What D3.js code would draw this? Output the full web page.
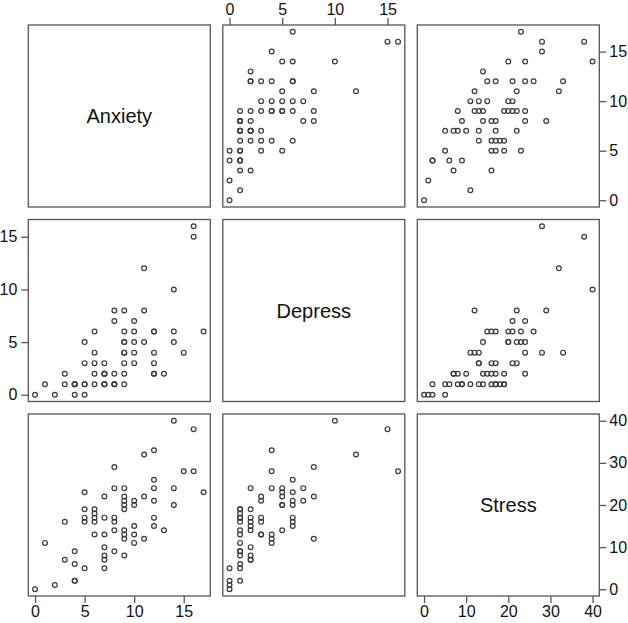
<!DOCTYPE html>
<html>
<head>
<meta charset="utf-8">
<script src="https://cdn.jsdelivr.net/npm/d3@7"></script>
<style>
  html, body { margin: 0; padding: 0; background: #fff; }
  svg { display: block; font-family: "Liberation Sans", Arial, sans-serif; }
</style>
</head>
<body>
<svg id="chart" width="628" height="623"></svg>
<script>
// Variable names (diagonal labels)
const variables = ["Anxiety", "Depress", "Stress"];

// Per-subject scores
const anxiety = [0, 1, 2, 3, 3, 4, 4, 4, 4, 5, 5, 5, 5, 5, 6, 6, 6, 6, 6,
  7, 7, 7, 7, 7, 7, 7, 8, 8, 8, 8, 8, 8, 9, 9, 9, 9, 9, 9, 9, 9, 9,
  10, 10, 10, 10, 10, 11, 11, 11, 12, 12, 12, 12, 12, 12, 13, 14, 14, 14, 15, 16, 16, 17];
const depress = [0, 1, 0, 1, 2, 1, 1, 0, 1, 5, 1, 1, 3, 0, 2, 1, 3, 6, 4,
  3, 2, 1, 2, 1, 2, 1, 8, 7, 1, 2, 1, 1, 4, 8, 6, 5, 1, 5, 3, 4, 2,
  7, 5, 6, 3, 4, 12, 5, 8, 4, 6, 2, 3, 6, 2, 2, 10, 5, 6, 4, 15, 16, 6];
const stress = [0, 11, 1, 16, 7, 9, 6, 2, 2, 23, 19, 17, 16, 5, 19, 18, 17, 16, 13,
  22, 17, 13, 10, 8, 7, 5, 29, 24, 17, 16, 14, 9, 24, 22, 21, 20, 19, 14, 13, 12, 8,
  21, 20, 15, 13, 11, 32, 22, 12, 33, 26, 24, 21, 17, 15, 14, 40, 24, 20, 28, 38, 28, 23];

// Tick values per variable
const anxietyTicks = [0, 5, 10, 15];
const depressTicks = [0, 5, 10, 15];
const stressTicks = [0, 10, 20, 30, 40];

const columns = [anxiety, depress, stress];
const tickSets = [anxietyTicks, depressTicks, stressTicks];

const svg = d3.select("#chart");
const P = 182;         // panel size
const pitch = 194.5;   // panel spacing
const originX = 28.3, originY = 25;
const ink = "#555";

function ext(vals) {
  const [a, b] = d3.extent(vals);
  const pad = (b - a) * 0.04;
  return [a - pad, b + pad];
}

const xScales = columns.map((v, j) =>
  d3.scaleLinear().domain(ext(v)).range([originX + j * pitch, originX + j * pitch + P]));
const yScales = columns.map((v, i) =>
  d3.scaleLinear().domain(ext(v)).range([originY + i * pitch + P, originY + i * pitch]));

const n = anxiety.length;
const idx = d3.range(n);

for (let i = 0; i < 3; i++) {
  for (let j = 0; j < 3; j++) {
    const x0 = originX + j * pitch, y0 = originY + i * pitch;
    const g = svg.append("g");
    if (i === j) {
      g.append("text")
        .attr("x", x0 + P / 2).attr("y", y0 + P / 2)
        .attr("text-anchor", "middle").attr("dominant-baseline", "central")
        .attr("font-size", 20).attr("fill", "#111")
        .text(variables[i]);
    } else {
      const xs = xScales[j], ys = yScales[i];
      g.selectAll("circle").data(idx).join("circle")
        .attr("cx", k => xs(columns[j][k]))
        .attr("cy", k => ys(columns[i][k]))
        .attr("r", 2.4)
        .attr("fill", "none")
        .attr("stroke", "#3a3a3a")
        .attr("stroke-width", 1.2);
    }
    g.append("rect")
      .attr("x", x0).attr("y", y0).attr("width", P).attr("height", P)
      .attr("fill", "none").attr("stroke", ink).attr("stroke-width", 1.3);
  }
}

function styleAxis(g) {
  g.select(".domain").remove();
  g.selectAll(".tick line").attr("stroke", ink).attr("stroke-width", 1.3);
  g.selectAll(".tick text").attr("fill", "#111").attr("font-size", 16)
    .attr("font-family", "Liberation Sans, Arial, sans-serif");
}

// Top axis on column 2 (Depress)
svg.append("g").attr("transform", `translate(0,${originY})`)
  .call(d3.axisTop(xScales[1]).tickValues(tickSets[1]).tickSize(7).tickPadding(3))
  .call(styleAxis);
// Bottom axes on columns 1 and 3
[0, 2].forEach(j => {
  svg.append("g").attr("transform", `translate(0,${originY + 2 * pitch + P})`)
    .call(d3.axisBottom(xScales[j]).tickValues(tickSets[j]).tickSize(7).tickPadding(3))
    .call(styleAxis);
});
// Left axis on row 2 (Depress)
svg.append("g").attr("transform", `translate(${originX},0)`)
  .call(d3.axisLeft(yScales[1]).tickValues(tickSets[1]).tickSize(7).tickPadding(4))
  .call(styleAxis);
// Right axes on rows 1 and 3
[0, 2].forEach(i => {
  svg.append("g").attr("transform", `translate(${originX + 2 * pitch + P},0)`)
    .call(d3.axisRight(yScales[i]).tickValues(tickSets[i]).tickSize(7).tickPadding(3))
    .call(styleAxis);
});
</script>
</body>
</html>
